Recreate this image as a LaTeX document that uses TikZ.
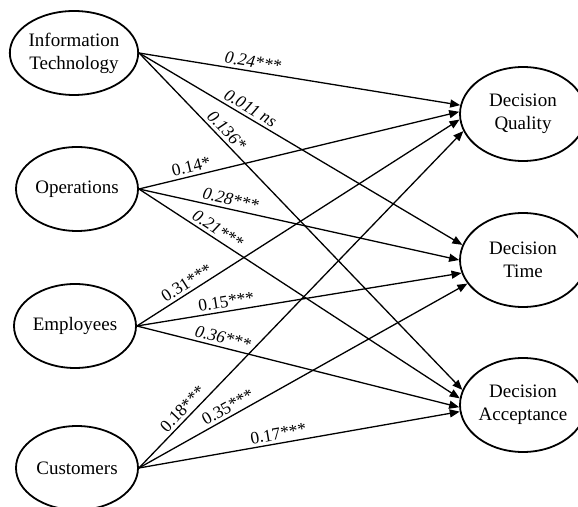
\documentclass[tikz,border=0pt]{standalone}
\usepackage{fontspec}
\setmainfont{Liberation Serif}
\usetikzlibrary{shapes.geometric,arrows.meta}
\begin{document}
\begin{tikzpicture}[x=0.5pt,y=-0.5pt,
  src/.style={ellipse,draw,line width=0.9pt,inner sep=0pt,minimum width=61pt,minimum height=42pt,align=center,font=\fontsize{9.5}{11.5}\selectfont},
  dst/.style={src,minimum width=63pt,minimum height=47pt},
  link/.style={line width=0.65pt,-{Triangle[length=5pt,width=4pt]}},
  lbl/.style={sloped,above,inner sep=1.5pt,font=\fontsize{8.7}{10}\selectfont},
  ilbl/.style={lbl,font=\fontsize{8.7}{10}\selectfont\itshape}]
\useasboundingbox (0,0) rectangle (578,507);
\clip (0,0) rectangle (578,507);

\node[src,minimum width=63pt] (it) at (74,53) {Information\\Technology};
\node[src] (op) at (77,189) {Operations};
\node[src] (em) at (75,326) {Employees};
\node[src] (cu) at (77,468) {Customers};

\node[dst] (dq) at (523,114) {Decision\\Quality};
\node[dst] (dt) at (523,260) {Decision\\Time};
\node[dst] (da) at (523,405) {Decision\\Acceptance};

% Information Technology
\draw[link] (it.east) -- node[ilbl,pos=0.35] {0.24***} (dq.172);
\draw[link] (it.east) -- node[ilbl,pos=0.33] {0.011 ns} (dt.166);
\draw[link] (it.east) -- node[ilbl,pos=0.25] {0.136*} (da.166);
% Operations
\draw[link] (op.east) -- node[lbl,pos=0.17] {0.14*} (dq.178);
\draw[link] (op.east) -- node[ilbl,pos=0.28] {0.28***} (dt.180);
\draw[link] (op.east) -- node[ilbl,pos=0.23] {0.21***} (da.174);
% Employees
\draw[link] (em.east) -- node[lbl,pos=0.17] {0.31***} (dq.185);
\draw[link] (em.east) -- node[lbl,pos=0.28] {0.15***} (dt.192);
\draw[link] (em.east) -- node[ilbl,pos=0.26] {0.36***} (da.182);
% Customers
\draw[link] (cu.east) -- node[lbl,pos=0.156] {0.18***} (dq.196);
\draw[link] (cu.east) -- node[lbl,pos=0.285] {0.35***} (dt.203);
\draw[link] (cu.east) -- node[lbl,pos=0.44] {0.17***} (da.186);
\end{tikzpicture}
\end{document}
